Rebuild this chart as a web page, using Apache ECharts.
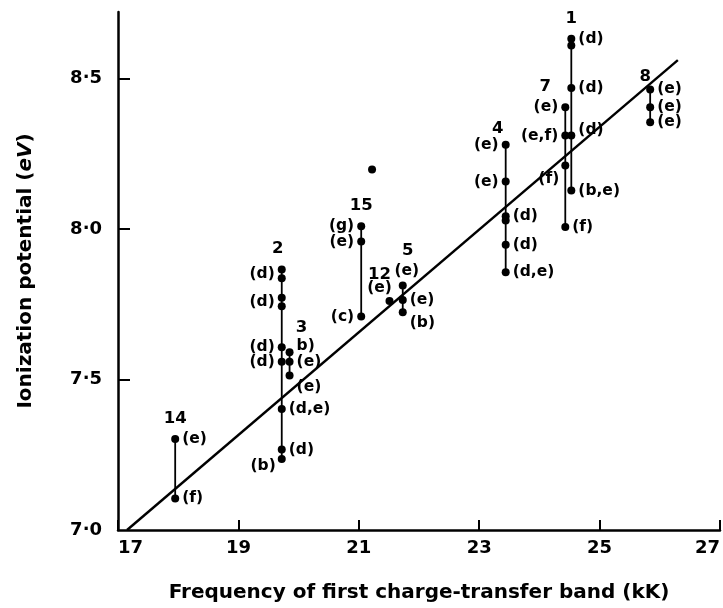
<!DOCTYPE html>
<html>
<head>
<meta charset="utf-8">
<script src="https://cdn.jsdelivr.net/npm/echarts@6/dist/echarts.min.js"></script>
<style>
html,body{margin:0;padding:0;background:#fff;}
#chart{width:723px;height:608px;}
</style>
</head>
<body>
<div id="chart"></div>
<script>
// ---- data ----
const groupNames = ['14', '2', '3', '15', '12', '5', '4', '7', '1', '8'];
const groupX = [17.95, 19.72, 19.85, 21.04, 21.51, 21.73, 23.44, 24.43, 24.53, 25.84];
const groupY = [
  [7.105, 7.302],
  [7.236, 7.267, 7.402, 7.559, 7.607, 7.743, 7.771, 7.836, 7.865],
  [7.513, 7.559, 7.590],
  [7.709, 7.958, 8.009],
  [7.760],
  [7.723, 7.764, 7.812],
  [7.856, 7.947, 8.028, 8.042, 8.157, 8.279],
  [8.006, 8.210, 8.310, 8.404],
  [8.127, 8.310, 8.468, 8.609, 8.631],
  [8.354, 8.404, 8.463]
];
const pointLabels = [
  ['(f)', '(e)'],
  ['(b)', '(d)', '(d,e)', '(d)', '(d)', '', '(d)', '', '(d)'],
  ['(e)', '(e)', 'b)'],
  ['(c)', '(e)', '(g)'],
  ['(e)'],
  ['(b)', '(e)', '(e)'],
  ['(d,e)', '(d)', '', '(d)', '(e)', '(e)'],
  ['(f)', '(f)', '(e,f)', '(e)'],
  ['(b,e)', '(d)', '(d)', '', '(d)'],
  ['(e)', '(e)', '(e)']
];
const strayPoint = [21.22, 8.197];
const fitLine = [[17.15, 7.0], [26.3, 8.56]];
const xTicks = [17, 19, 21, 23, 25, 27];
const yTicks = [7.0, 7.5, 8.0, 8.5];

// ---- label placement (style) ----
const labelSide = [
  ['r', 'r'],
  ['lb', 'r', 'r', 'l', 'l', '', 'lp', '', 'lp'],
  ['rbb', 'r', 'rt'],
  ['l', 'l', 'l'],
  ['tl'],
  ['rbb', 'r', 't'],
  ['r', 'r', '', 'r', 'l', 'l'],
  ['r', 'lbb', 'l', 'l'],
  ['r', 'rt', 'r', '', 'r'],
  ['r', 'r', 'r']
];
const numberNudge = [[0, 0], [-4, 0], [12, -4], [0, 0], [-10, -6], [5, -14], [-8, 4], [-20, 0], [0, 0], [-5, 8]];

const FONT = 'DejaVu Sans';
const sideMap = {
  r:   {position: 'right', distance: 3, offset: [0, 0]},
  l:   {position: 'left', distance: 3, offset: [0, 0]},
  lp:  {position: 'left', distance: 3, offset: [0, 4]},
  lb:  {position: 'left', distance: 2, offset: [0, 7]},
  lbb: {position: 'left', distance: 2, offset: [0, 13]},
  rt:  {position: 'right', distance: 3, offset: [0, -6]},
  rbb: {position: 'right', distance: 1, offset: [2, 11]},
  t:   {position: 'top', distance: 2, offset: [4, 0]},
  tl:  {position: 'top', distance: 1, offset: [-10, 0]}
};

const series = [];
series.push({
  type: 'line', data: fitLine, symbol: 'none', z: 2, silent: true,
  lineStyle: {color: '#000', width: 2.4}
});
groupNames.forEach((name, i) => {
  const ys = groupY[i];
  if (ys.length > 1) {
    series.push({
      type: 'line', symbol: 'none', z: 3, silent: true,
      data: [[groupX[i], Math.min(...ys)], [groupX[i], Math.max(...ys)]],
      lineStyle: {color: '#000', width: 1.8}
    });
  }
  series.push({
    type: 'scatter', symbol: 'circle', symbolSize: 8, z: 5, silent: true,
    itemStyle: {color: '#000', opacity: 1},
    data: ys.map((y, j) => {
      const txt = pointLabels[i][j];
      const s = sideMap[labelSide[i][j]] || sideMap.r;
      return {
        value: [groupX[i], y],
        label: {
          show: txt !== '', formatter: txt, position: s.position, distance: s.distance,
          offset: s.offset, color: '#000', opacity: 1, fontFamily: FONT, fontWeight: 'bold', fontSize: 15.5
        }
      };
    })
  });
  series.push({
    type: 'scatter', symbolSize: 0, z: 6, silent: true,
    itemStyle: {opacity: 1},
    data: [{
      value: [groupX[i], Math.max(...ys)],
      label: {
        show: true, formatter: name, position: 'top', distance: 12,
        offset: numberNudge[i], color: '#000', opacity: 1, fontFamily: FONT, fontWeight: 'bold', fontSize: 16.5
      }
    }]
  });
});
series.push({
  type: 'scatter', symbol: 'circle', symbolSize: 8, z: 5, silent: true,
  itemStyle: {color: '#000', opacity: 1}, data: [strayPoint]
});

const chart = echarts.init(document.getElementById('chart'), null, {renderer: 'canvas'});
chart.setOption({
  backgroundColor: '#fff',
  animation: false,
  grid: {left: 118, right: 1, top: 12, bottom: 78, containLabel: false},
  xAxis: {
    type: 'value', min: 17, max: 27, interval: 2,
    name: 'Frequency of first charge-transfer band (kK)',
    nameLocation: 'middle', nameGap: 53,
    nameTextStyle: {fontFamily: FONT, fontWeight: 'bold', fontSize: 20, color: '#000'},
    axisLine: {onZero: false, lineStyle: {color: '#000', width: 2.5}},
    axisTick: {inside: true, length: 10, lineStyle: {color: '#000', width: 2}},
    splitLine: {show: false},
    axisLabel: {
      customValues: xTicks, color: '#000', fontFamily: FONT, fontWeight: 'bold', fontSize: 18, margin: 9,
      alignMinLabel: 'left', alignMaxLabel: 'right'
    }
  },
  yAxis: {
    type: 'value', min: 7, max: 8.72,
    name: '{a|Ionization potential (}{i|eV}{a|)}',
    nameLocation: 'middle', nameGap: 82, nameRotate: 90,
    nameTextStyle: {
      fontFamily: FONT, fontWeight: 'bold', fontSize: 20, color: '#000',
      rich: {
        a: {fontFamily: FONT, fontWeight: 'bold', fontSize: 20, color: '#000'},
        i: {fontFamily: FONT, fontWeight: 'bold', fontSize: 20, color: '#000', fontStyle: 'italic'}
      }
    },
    axisLine: {onZero: false, lineStyle: {color: '#000', width: 2.5}},
    axisTick: {inside: true, length: 12, customValues: [7.5, 8.0, 8.5], lineStyle: {color: '#000', width: 2}},
    splitLine: {show: false},
    axisLabel: {
      customValues: yTicks, color: '#000', fontFamily: FONT, fontWeight: 'bold', fontSize: 18, margin: 16,
      formatter: v => v.toFixed(1).replace('.', '·')
    }
  },
  series: series
});
</script>
</body>
</html>
